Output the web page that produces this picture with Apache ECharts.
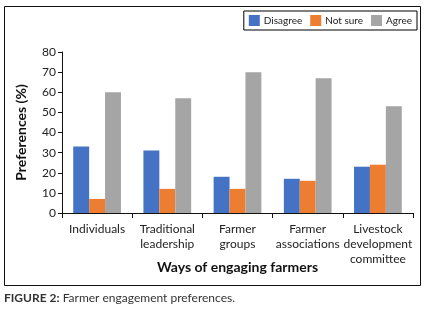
<!DOCTYPE html>
<html>
<head>
<meta charset="utf-8">
<script src="https://cdn.jsdelivr.net/npm/echarts@6/dist/echarts.min.js"></script>
<style>
  html, body { margin: 0; padding: 0; background: #fff; }
  #chart { width: 428px; height: 316px; }
</style>
</head>
<body>
<div id="chart"></div>
<script>
// categories and values
var categories = ['Individuals', 'Traditional\nleadership', 'Farmer\ngroups', 'Farmer\nassociations', 'Livestock\ndevelopment\ncommittee'];
var disagree = [33, 31, 18, 17, 23];
var notSure = [7, 12, 12, 16, 24];
var agree = [60, 57, 70, 67, 53];
var legendNames = ['Disagree', 'Not sure', 'Agree'];

var font = 'Lato';
var chart = echarts.init(document.getElementById('chart'));

function barSeries(name, data) {
    return {
        name: name,
        type: 'bar',
        data: data,
        barGap: 0,
        barCategoryGap: '32%'
    };
}

var option = {
    animation: false,
    color: ['#4472C4', '#ED7D31', '#A5A5A5'],
    textStyle: { fontFamily: font },
    legend: {
        data: legendNames,
        right: 11,
        top: 11,
        borderColor: '#000',
        borderWidth: 1,
        padding: [4, 5, 4, 5],
        itemWidth: 11,
        itemHeight: 11,
        itemGap: 8,
        icon: 'rect',
        textStyle: { fontFamily: font, fontSize: 10, color: '#222', padding: [0, 0, 0, -1] }
    },
    grid: { left: 62, right: 15, top: 52, bottom: 103, containLabel: false },
    xAxis: {
        type: 'category',
        data: categories,
        name: 'Ways of engaging farmers',
        nameLocation: 'middle',
        nameGap: 47,
        nameMoveOverlap: false,
        nameTextStyle: { fontFamily: font, fontSize: 14, fontWeight: 'bold', color: '#111' },
        axisLine: { lineStyle: { color: '#111', width: 1 } },
        axisTick: { show: true, length: 5, lineStyle: { color: '#111' } },
        axisLabel: { fontFamily: font, fontSize: 12, color: '#222', lineHeight: 15, margin: 9, interval: 0 }
    },
    yAxis: {
        type: 'value',
        min: 0,
        max: 80,
        interval: 10,
        name: 'Preferences (%)',
        nameLocation: 'middle',
        nameRotate: 90,
        nameGap: 34,
        nameMoveOverlap: false,
        nameTextStyle: { fontFamily: font, fontSize: 14, fontWeight: 'bold', color: '#111' },
        splitLine: { show: false },
        axisLine: { show: true, lineStyle: { color: '#111', width: 1 } },
        axisTick: { show: true, length: 4, lineStyle: { color: '#111' } },
        axisLabel: { fontFamily: font, fontSize: 12, color: '#222', margin: 6 }
    },
    graphic: [
        {
            type: 'rect',
            shape: { x: 4.5, y: 6.5, width: 416, height: 279 },
            style: { fill: 'none', stroke: '#111', lineWidth: 1 },
            silent: true
        },
        {
            type: 'text',
            left: 4,
            top: 292,
            style: {
                text: '{b|FIGURE 2:} Farmer engagement preferences.',
                fontFamily: font,
                fontSize: 12,
                fill: '#333',
                rich: { b: { fontFamily: font, fontSize: 12, fontWeight: 'bold', fill: '#333' } }
            }
        }
    ],
    series: [
        barSeries(legendNames[0], disagree),
        barSeries(legendNames[1], notSure),
        barSeries(legendNames[2], agree)
    ]
};
chart.setOption(option);
</script>
</body>
</html>
